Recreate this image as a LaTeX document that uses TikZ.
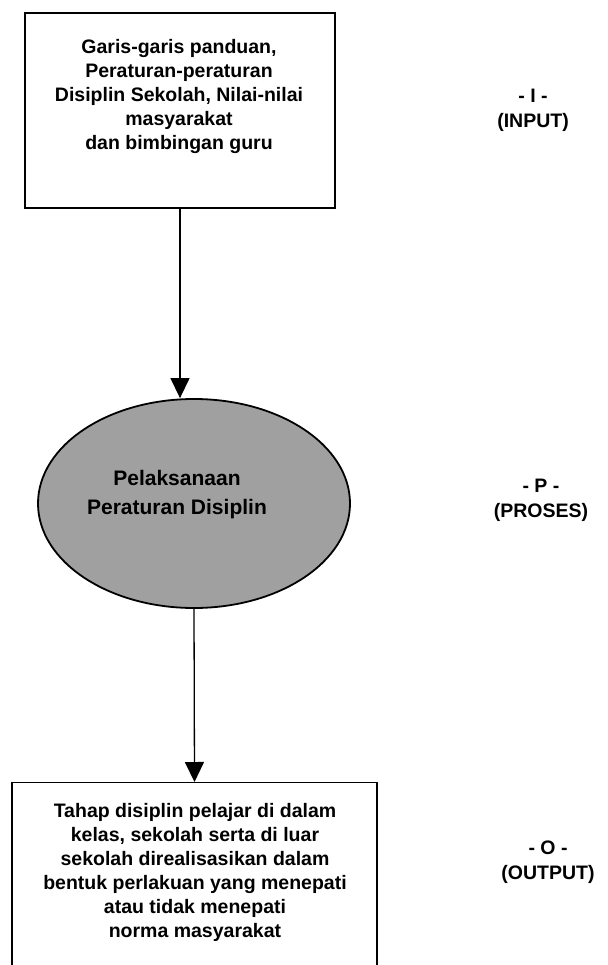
\documentclass[tikz,border=0pt]{standalone}
\usepackage{fontspec}
\setmainfont{Liberation Sans}
\usetikzlibrary{arrows.meta,shapes.geometric}
\definecolor{procgray}{RGB}{160,160,160}
\begin{document}
\begin{tikzpicture}[x=1pt,y=-1pt,
  frame/.style={draw, line width=1.4pt, inner sep=0pt},
  bodytext/.style={align=center, inner sep=0pt, font=\bfseries\fontsize{19.5}{24}\selectfont},
  proctext/.style={align=center, inner sep=0pt, font=\bfseries\fontsize{21}{29}\selectfont},
  sidelabel/.style={align=center, inner sep=0pt, font=\bfseries\fontsize{19.5}{25}\selectfont},
  conn/.style={line width=1.3pt, -{Triangle[length=20pt,width=19pt]}}
]
\useasboundingbox (0,0) rectangle (607,965);
\clip (0,0) rectangle (607,965);
\fill[white] (0,0) rectangle (607,965);

% input box
\node[frame, minimum width=310pt, minimum height=195pt] (inbox) at (180,110.5) {};
\node[bodytext] (intext) at (179,97) {Garis-garis panduan,\\Peraturan-peraturan\\Disiplin Sekolah, Nilai-nilai\\masyarakat\\dan bimbingan guru};

% process ellipse
\node[ellipse, draw, line width=1.8pt, fill=procgray, minimum width=312pt, minimum height=209pt, inner sep=0pt] (proc) at (194,503.5) {};
\node[proctext] (ptext) at (177,495) {Pelaksanaan\\Peraturan Disiplin};

% output box (runs off the bottom)
\node[frame, minimum width=365pt, minimum height=220pt, anchor=north] (outbox) at (194.5,782) {};
\node[bodytext] (outtext) at (195,872) {Tahap disiplin pelajar di dalam\\kelas, sekolah serta di luar\\sekolah direalisasikan dalam\\bentuk perlakuan yang menepati\\atau tidak menepati\\norma masyarakat};

% side labels
\node[sidelabel] (labI) at (533,110) {- I -\\(INPUT)};
\node[sidelabel] (labP) at (541,500) {- P -\\(PROSES)};
\node[sidelabel] (labO) at (548,862) {- O -\\(OUTPUT)};

% connectors
\draw[conn] (inbox.south) -- (inbox.south |- proc.north);
\draw[conn] (proc.south) -- (outbox.north);
\end{tikzpicture}
\end{document}
